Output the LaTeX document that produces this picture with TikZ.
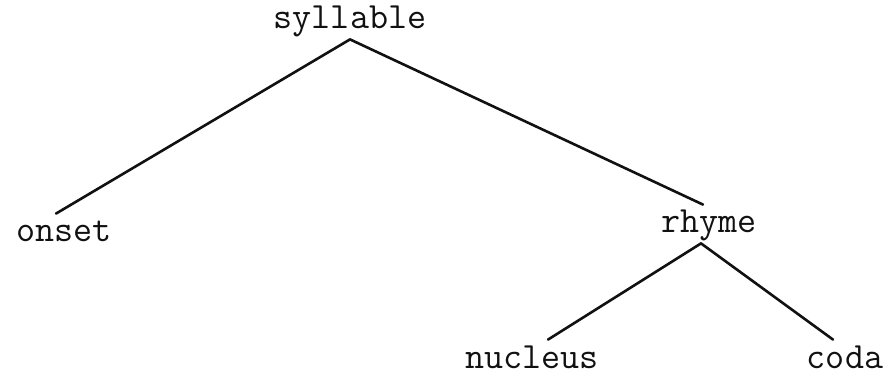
\documentclass[tikz,border=0pt]{standalone}
\usepackage{xcolor}
\definecolor{inkBlack}{HTML}{111111}
\usepackage{tikz}
\usetikzlibrary{
    positioning
}
\tikzset{
    % Labels of the tree, typewriter text sitting on its baseline
    constituent/.style={
        font=\ttfamily\fontsize{18.5}{22}\selectfont,
        text=inkBlack,
        anchor=base,
        text height=10pt,
        text depth=1pt,
        inner xsep=0pt,
        inner ysep=4pt,
    },
    % Branches between a mother and its daughters
    branch/.style={
        draw=inkBlack,
        line width=1.3pt,
        line cap=round,
    },
}
\begin{document}
\begin{tikzpicture}[x=0.5pt, y=-0.5pt]
    \useasboundingbox (0,0) rectangle (892,373);

    \node (syllable) [constituent] at (350,29) {syllable};
    \node (onset) [constituent] at (64,242) {onset};
    \node (rhyme) [constituent] at (709,233) {rhyme};
    \node (nucleus) [constituent] at (532,368) {nucleus};
    \node (coda) [constituent] at (845,368) {coda};

    \draw [branch] (syllable.south) -- ([xshift=-4pt]onset.north);
    \draw [branch] (syllable.south) -- ([xshift=-3pt]rhyme.north);
    \draw [branch] ([xshift=-4pt]rhyme.south) -- ([xshift=8pt]nucleus.north);
    \draw [branch] ([xshift=-4pt]rhyme.south) -- ([xshift=-6pt]coda.north);
\end{tikzpicture}
\end{document}
